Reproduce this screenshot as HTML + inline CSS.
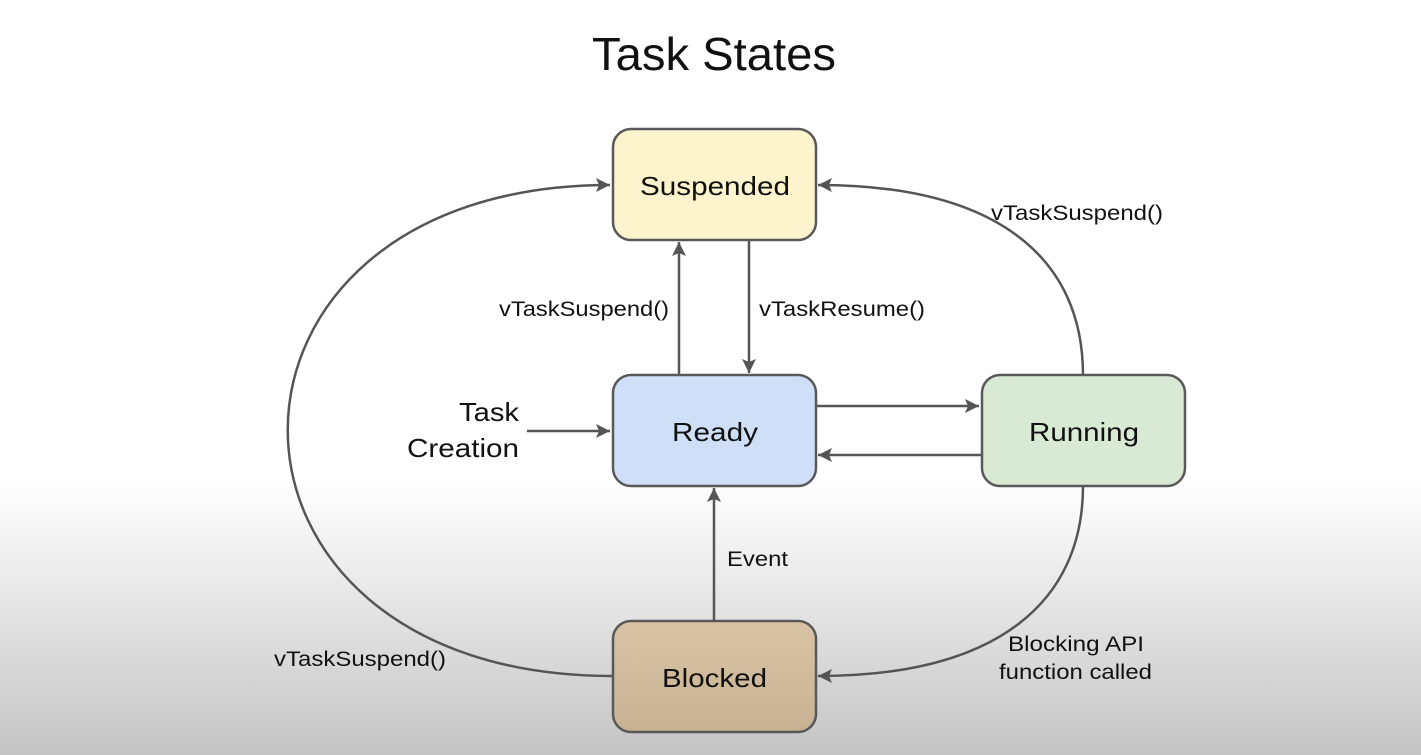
<!DOCTYPE html>
<html><head><meta charset="utf-8"><style>
html,body{margin:0;padding:0}
body{width:1421px;height:755px;overflow:hidden;background:linear-gradient(to bottom,#fff 0px,#fff 480px,#e6e6e6 600px,#c4c4c4 755px);font-family:"Liberation Sans",sans-serif;}
</style></head><body>
<svg width="1421" height="755" xmlns="http://www.w3.org/2000/svg" style="position:absolute;left:0;top:0">
<defs>
<marker id="a" markerWidth="16" markerHeight="16" refX="14" refY="7" orient="auto" markerUnits="userSpaceOnUse">
<path d="M0,0 L14,7 L0,14 L3,7 z" fill="#555"/></marker>
<linearGradient id="bg" x1="0" y1="0" x2="0" y2="1"><stop offset="0" stop-color="#d8c4a4"/><stop offset="1" stop-color="#c8b293"/></linearGradient>
</defs>
<text x="592" y="70" font-size="46" fill="#111" textLength="244" lengthAdjust="spacingAndGlyphs">Task States</text>
<g fill="none" stroke="#555" stroke-width="2.5">
<path d="M612,676 C180,676 180,185 610,185" marker-end="url(#a)"/>
<path d="M1083,375 C1083,260 1000,185 818,185" marker-end="url(#a)"/>
<path d="M1083,486 C1083,600 1000,676 818,676" marker-end="url(#a)"/>
<path d="M679,375 L679,242" marker-end="url(#a)"/>
<path d="M749,240 L749,373" marker-end="url(#a)"/>
<path d="M816,406 L979,406" marker-end="url(#a)"/>
<path d="M981,455 L818,455" marker-end="url(#a)"/>
<path d="M527,431 L610,431" marker-end="url(#a)"/>
<path d="M714,621 L714,488" marker-end="url(#a)"/>
</g>
<g stroke="#595959" stroke-width="2.5">
<rect x="613" y="129" width="203" height="111" rx="18" fill="#fdf3cd"/>
<rect x="613" y="375" width="203" height="111" rx="18" fill="#d0dff8"/>
<rect x="982" y="375" width="203" height="111" rx="18" fill="#d9ead4"/>
<rect x="613" y="621" width="203" height="111" rx="18" fill="url(#bg)"/>
</g>
<g font-size="26" fill="#111" lengthAdjust="spacingAndGlyphs">
<text x="640" y="195" textLength="150" lengthAdjust="spacingAndGlyphs">Suspended</text>
<text x="672" y="441" textLength="86" lengthAdjust="spacingAndGlyphs">Ready</text>
<text x="1029" y="441" textLength="110" lengthAdjust="spacingAndGlyphs">Running</text>
<text x="662" y="687" textLength="105" lengthAdjust="spacingAndGlyphs">Blocked</text>
<text x="459" y="421" textLength="60" lengthAdjust="spacingAndGlyphs">Task</text>
<text x="407" y="457" textLength="112" lengthAdjust="spacingAndGlyphs">Creation</text>
</g>
<g font-size="21" fill="#111">
<text x="499" y="316" textLength="170" lengthAdjust="spacingAndGlyphs">vTaskSuspend()</text>
<text x="759" y="316" textLength="166" lengthAdjust="spacingAndGlyphs">vTaskResume()</text>
<text x="991" y="220" textLength="172" lengthAdjust="spacingAndGlyphs">vTaskSuspend()</text>
<text x="727" y="566" textLength="61" lengthAdjust="spacingAndGlyphs">Event</text>
<text x="274" y="666" textLength="172" lengthAdjust="spacingAndGlyphs">vTaskSuspend()</text>
<text x="1008" y="651" textLength="136" lengthAdjust="spacingAndGlyphs">Blocking API</text>
<text x="999" y="679" textLength="153" lengthAdjust="spacingAndGlyphs">function called</text>
</g>
</svg>
</body></html>
